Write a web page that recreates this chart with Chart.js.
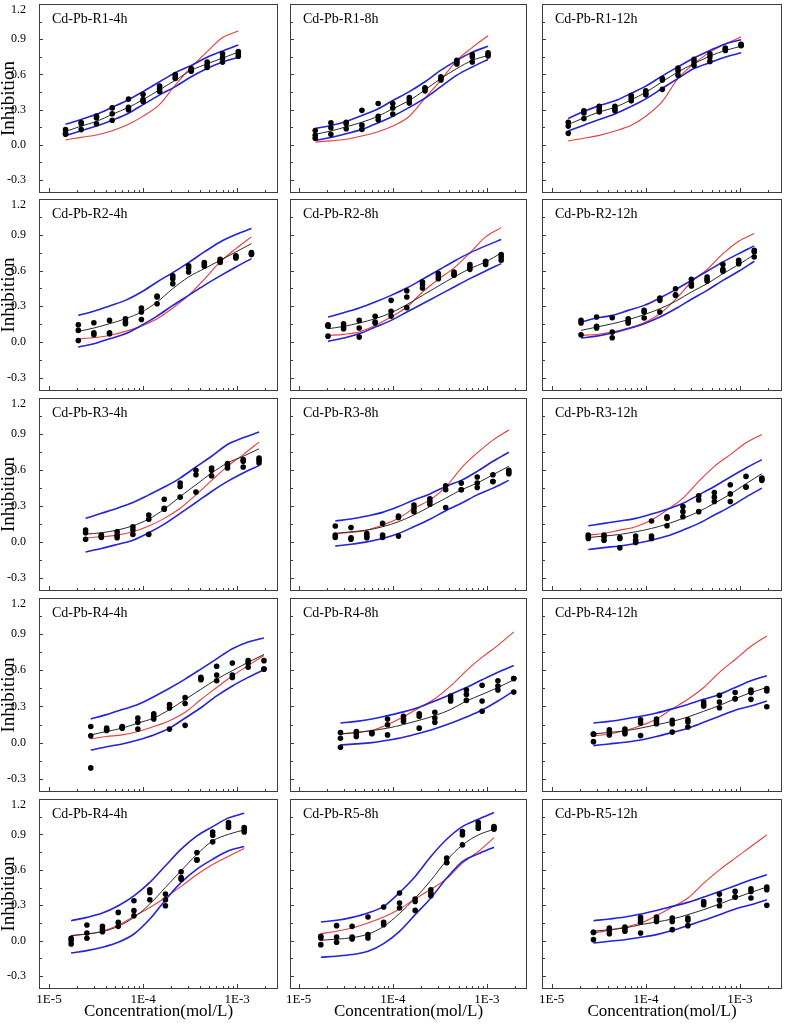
<!DOCTYPE html>
<html><head><meta charset="utf-8">
<script src="https://cdn.jsdelivr.net/npm/chart.js@4.4.1/dist/chart.umd.min.js"></script>
<style>
html,body{margin:0;padding:0;background:#fff;width:788px;height:1027px;overflow:hidden;position:relative}
canvas{position:absolute}
</style></head><body>
<script>
// ---------- concentrations (mol/L) per row ----------
const CONC_R1 = [1.5e-5,2.2e-5,3.2e-5,4.7e-5,7.0e-5,1.0e-4,1.5e-4,2.2e-4,3.25e-4,4.8e-4,7.0e-4,1.03e-3];
const CONC_R2 = [2.05e-5,3.0e-5,4.4e-5,6.5e-5,9.6e-5,1.41e-4,2.07e-4,3.05e-4,4.48e-4,6.6e-4,9.7e-4,1.42e-3];
const CONC_R3 = [2.45e-5,3.6e-5,5.3e-5,7.8e-5,1.15e-4,1.68e-4,2.48e-4,3.65e-4,5.35e-4,7.9e-4,1.16e-3,1.71e-3];
const CONC_R4 = [2.78e-5,4.1e-5,6.0e-5,8.8e-5,1.3e-4,1.91e-4,2.8e-4,4.12e-4,6.06e-4,8.9e-4,1.31e-3,1.93e-3];
const CONC_R5 = [1.72e-5,2.53e-5,3.7e-5,5.45e-5,8.0e-5,1.18e-4,1.73e-4,2.54e-4,3.74e-4,5.5e-4,8.1e-4,1.19e-3];
const CONC_R5_12H = [2.78e-5,4.1e-5,6.0e-5,8.8e-5,1.3e-4,1.91e-4,2.8e-4,4.12e-4,6.06e-4,8.9e-4,1.31e-3,1.93e-3];

// ---------- R1 ----------
const R1_4H_PTS = [[0.13,0.10,0.09],[0.19,0.18,0.13],[0.245,0.23,0.18],[0.315,0.265,0.21],[0.39,0.32,0.30],[0.43,0.385,0.37],[0.50,0.475,0.455],[0.60,0.58,0.565],[0.65,0.635,0.627],[0.705,0.68,0.66],[0.775,0.74,0.705],[0.795,0.775,0.755]];
const R1_4H_FIT = [0.114,0.16,0.20,0.26,0.32,0.385,0.47,0.55,0.635,0.69,0.74,0.79];
const R1_4H_UP  = [0.175,0.217,0.26,0.32,0.385,0.454,0.538,0.615,0.677,0.746,0.80,0.85];
const R1_4H_LO  = [0.078,0.12,0.16,0.21,0.27,0.343,0.426,0.496,0.58,0.65,0.705,0.746];
const R1_4H_RED = [0.042,0.064,0.084,0.12,0.175,0.245,0.345,0.51,0.663,0.794,0.914,0.97];

const R1_8H_PTS = [[0.123,0.081,0.056],[0.188,0.146,0.09],[0.193,0.18,0.137],[0.294,0.168,0.132],[0.353,0.244,0.213],[0.353,0.314,0.263],[0.403,0.384,0.356],[0.487,0.476,0.46],[0.58,0.566,0.552],[0.72,0.706,0.689],[0.77,0.748,0.706],[0.784,0.77,0.756]];
const R1_8H_FIT = [0.09,0.118,0.154,0.193,0.244,0.308,0.378,0.468,0.566,0.65,0.72,0.762];
const R1_8H_UP  = [0.14,0.165,0.2,0.25,0.308,0.378,0.454,0.538,0.636,0.72,0.79,0.84];
const R1_8H_LO  = [0.039,0.062,0.095,0.132,0.188,0.244,0.319,0.398,0.496,0.594,0.664,0.728];
const R1_8H_RED = [0.025,0.034,0.048,0.076,0.112,0.16,0.244,0.398,0.552,0.72,0.83,0.93];

const R1_12H_PTS = [[0.193,0.16,0.098],[0.291,0.272,0.224],[0.328,0.30,0.28],[0.328,0.308,0.291],[0.42,0.398,0.375],[0.46,0.44,0.426],[0.566,0.552,0.473],[0.655,0.63,0.594],[0.728,0.706,0.678],[0.776,0.748,0.711],[0.824,0.812,0.804],[0.857,0.846,0.846]];
const R1_12H_FIT = [0.174,0.23,0.28,0.32,0.384,0.448,0.538,0.622,0.692,0.756,0.804,0.84];
const R1_12H_UP  = [0.224,0.286,0.333,0.375,0.44,0.5,0.588,0.664,0.74,0.804,0.86,0.896];
const R1_12H_LO  = [0.118,0.168,0.216,0.263,0.328,0.392,0.482,0.566,0.65,0.70,0.748,0.784];
const R1_12H_RED = [0.034,0.056,0.081,0.118,0.168,0.244,0.37,0.566,0.692,0.79,0.86,0.92];

// ---------- R2 ----------
const R2_4H_PTS = [[0.146,0.098,0.014],[0.162,0.078,0.062],[0.182,0.078,0.07],[0.196,0.168,0.154],[0.286,0.252,0.19],[0.387,0.378,0.322],[0.555,0.532,0.49],[0.639,0.622,0.588],[0.667,0.65,0.636],[0.695,0.678,0.667],[0.723,0.715,0.706],[0.75,0.742,0.734]];
const R2_4H_FIT = [0.09,0.118,0.154,0.196,0.252,0.336,0.448,0.546,0.616,0.686,0.756,0.826];
const R2_4H_UP  = [0.224,0.258,0.303,0.35,0.42,0.504,0.583,0.667,0.756,0.84,0.902,0.952];
const R2_4H_LO  = [-0.042,-0.014,0.028,0.07,0.14,0.218,0.308,0.392,0.476,0.555,0.63,0.70];
const R2_4H_RED = [0.028,0.036,0.056,0.09,0.134,0.196,0.286,0.392,0.527,0.672,0.784,0.882];

const R2_8H_PTS = [[0.146,0.134,0.05],[0.154,0.126,0.112],[0.182,0.118,0.042],[0.216,0.168,0.16],[0.35,0.258,0.218],[0.431,0.378,0.289],[0.504,0.482,0.454],[0.574,0.555,0.532],[0.588,0.574,0.56],[0.65,0.63,0.61],[0.678,0.667,0.65],[0.734,0.714,0.686]];
const R2_8H_FIT = [0.112,0.132,0.16,0.196,0.246,0.314,0.392,0.47,0.546,0.616,0.672,0.748];
const R2_8H_UP  = [0.21,0.246,0.286,0.336,0.392,0.454,0.527,0.602,0.678,0.748,0.807,0.86];
const R2_8H_LO  = [0.006,0.034,0.07,0.126,0.182,0.252,0.322,0.392,0.462,0.532,0.597,0.658];
const R2_8H_RED = [0.056,0.065,0.085,0.14,0.21,0.294,0.42,0.527,0.622,0.748,0.882,0.96];

const R2_12H_PTS = [[0.182,0.16,0.062],[0.21,0.132,0.118],[0.204,0.084,0.036],[0.196,0.174,0.16],[0.266,0.252,0.202],[0.37,0.35,0.252],[0.448,0.397,0.392],[0.527,0.49,0.47],[0.546,0.527,0.513],[0.65,0.61,0.594],[0.686,0.667,0.658],[0.77,0.756,0.714]];
const R2_12H_FIT = [0.098,0.126,0.154,0.188,0.23,0.28,0.342,0.42,0.49,0.574,0.65,0.734];
const R2_12H_UP  = [0.168,0.202,0.224,0.266,0.308,0.37,0.44,0.518,0.594,0.672,0.742,0.807];
const R2_12H_LO  = [0.034,0.05,0.076,0.112,0.154,0.21,0.28,0.359,0.434,0.518,0.594,0.678];
const R2_12H_RED = [0.056,0.064,0.084,0.118,0.162,0.238,0.359,0.504,0.61,0.742,0.846,0.91];

// ---------- R3 ----------
const R3_4H_PTS = [[0.098,0.076,0.022],[0.056,0.048,0.036],[0.084,0.056,0.034],[0.126,0.098,0.062],[0.224,0.188,0.062],[0.356,0.28,0.272],[0.49,0.462,0.373],[0.597,0.56,0.415],[0.616,0.597,0.552],[0.653,0.636,0.616],[0.686,0.672,0.625],[0.70,0.681,0.658]];
const R3_4H_FIT = [0.064,0.076,0.098,0.134,0.19,0.272,0.378,0.476,0.574,0.658,0.714,0.776];
const R3_4H_UP  = [0.196,0.238,0.28,0.328,0.392,0.457,0.532,0.625,0.714,0.812,0.868,0.916];
const R3_4H_LO  = [-0.084,-0.056,-0.022,0.014,0.076,0.148,0.238,0.328,0.42,0.504,0.574,0.636];
const R3_4H_RED = [0.034,0.042,0.056,0.084,0.132,0.196,0.28,0.392,0.513,0.63,0.728,0.832];

const R3_8H_PTS = [[0.132,0.056,0.036],[0.12,0.034,0.022],[0.07,0.048,0.034],[0.154,0.056,0.036],[0.216,0.204,0.048],[0.308,0.28,0.252],[0.359,0.336,0.314],[0.468,0.434,0.286],[0.49,0.434,0.434],[0.541,0.49,0.454],[0.56,0.504,0.504],[0.597,0.583,0.569]];
const R3_8H_FIT = [0.07,0.084,0.098,0.126,0.168,0.224,0.294,0.364,0.434,0.49,0.56,0.63];
const R3_8H_UP  = [0.174,0.19,0.216,0.246,0.294,0.35,0.40,0.462,0.513,0.588,0.672,0.748];
const R3_8H_LO  = [-0.036,-0.02,0.0,0.028,0.07,0.126,0.188,0.26,0.322,0.392,0.448,0.513];
const R3_8H_RED = [0.07,0.078,0.098,0.14,0.196,0.28,0.35,0.457,0.616,0.742,0.849,0.933];

const R3_12H_PTS = [[0.056,0.042,0.028],[0.056,0.042,0.014],[0.036,0.028,-0.05],[0.048,0.014,-0.006],[0.174,0.048,0.028],[0.21,0.196,0.134],[0.294,0.252,0.21],[0.384,0.35,0.252],[0.412,0.373,0.336],[0.476,0.40,0.336],[0.546,0.457,0.457],[0.532,0.52,0.513]];
const R3_12H_FIT = [0.036,0.048,0.062,0.084,0.112,0.148,0.196,0.252,0.322,0.398,0.485,0.569];
const R3_12H_UP  = [0.134,0.154,0.174,0.196,0.232,0.272,0.322,0.392,0.462,0.541,0.616,0.686];
const R3_12H_LO  = [-0.064,-0.048,-0.034,-0.014,0.014,0.048,0.098,0.154,0.224,0.294,0.373,0.448];
const R3_12H_RED = [0.056,0.07,0.098,0.126,0.182,0.266,0.364,0.504,0.63,0.728,0.826,0.896];

// ---------- R4 ----------
const R4_4H_PTS = [[0.134,0.056,-0.21],[0.12,0.106,0.10],[0.134,0.127,0.12],[0.204,0.168,0.112],[0.24,0.218,0.196],[0.316,0.288,0.112],[0.373,0.325,0.143],[0.541,0.53,0.521],[0.633,0.56,0.513],[0.661,0.56,0.541],[0.68,0.661,0.625],[0.68,0.61,0.61]];
const R4_4H_FIT = [0.064,0.092,0.12,0.162,0.204,0.274,0.358,0.442,0.526,0.597,0.667,0.731];
const R4_4H_UP  = [0.196,0.232,0.274,0.316,0.381,0.451,0.527,0.61,0.695,0.779,0.835,0.868];
const R4_4H_LO  = [-0.062,-0.034,-0.011,0.022,0.064,0.12,0.204,0.289,0.387,0.47,0.541,0.605];
const R4_4H_RED = [0.031,0.05,0.064,0.092,0.134,0.182,0.252,0.358,0.457,0.555,0.639,0.723];

const R4_8H_PTS = [[0.084,0.036,-0.039],[0.092,0.073,0.05],[0.084,0.078,0.073],[0.196,0.148,0.064],[0.218,0.196,0.176],[0.24,0.218,0.12],[0.252,0.204,0.168],[0.387,0.364,0.345],[0.437,0.40,0.35],[0.476,0.345,0.26],[0.513,0.47,0.437],[0.532,0.532,0.42]];
const R4_8H_FIT = [0.07,0.084,0.10,0.12,0.15,0.185,0.224,0.275,0.345,0.40,0.457,0.521];
const R4_8H_UP  = [0.162,0.176,0.196,0.224,0.255,0.294,0.345,0.40,0.457,0.521,0.583,0.639];
const R4_8H_LO  = [-0.02,-0.011,0.0,0.02,0.045,0.078,0.115,0.16,0.212,0.27,0.345,0.429];
const R4_8H_RED = [0.073,0.084,0.10,0.15,0.215,0.289,0.364,0.47,0.597,0.709,0.807,0.919];

const R4_12H_PTS = [[0.07,0.07,0.008],[0.106,0.092,0.064],[0.112,0.092,0.073],[0.19,0.162,0.059],[0.196,0.176,0.157],[0.185,0.157,0.087],[0.19,0.171,0.129],[0.336,0.317,0.303],[0.392,0.336,0.289],[0.415,0.364,0.364],[0.437,0.415,0.359],[0.448,0.429,0.297]];
const R4_12H_FIT = [0.073,0.084,0.098,0.12,0.148,0.176,0.213,0.26,0.308,0.364,0.415,0.457];
const R4_12H_UP  = [0.162,0.176,0.196,0.218,0.246,0.28,0.317,0.359,0.40,0.457,0.513,0.555];
const R4_12H_LO  = [-0.025,-0.011,0.003,0.022,0.05,0.084,0.12,0.168,0.218,0.269,0.303,0.345];
const R4_12H_RED = [0.056,0.072,0.10,0.14,0.196,0.28,0.36,0.457,0.583,0.69,0.80,0.885];

// ---------- R5 ----------
const R5_4H_PTS = [[0.02,0.0,-0.028],[0.132,0.065,0.02],[0.121,0.099,0.076],[0.239,0.155,0.121],[0.338,0.254,0.211],[0.431,0.408,0.346],[0.394,0.346,0.296],[0.583,0.535,0.521],[0.746,0.684,0.684],[0.921,0.893,0.837],[1.0,0.977,0.958],[0.958,0.938,0.921]];
const R5_4H_FIT = [0.042,0.056,0.076,0.121,0.197,0.31,0.451,0.592,0.732,0.845,0.901,0.938];
const R5_4H_UP  = [0.169,0.197,0.234,0.296,0.38,0.493,0.634,0.775,0.887,0.966,1.04,1.079];
const R5_4H_LO  = [-0.104,-0.085,-0.056,-0.014,0.056,0.183,0.345,0.493,0.606,0.69,0.761,0.797];
const R5_4H_RED = [0.042,0.056,0.08,0.13,0.205,0.28,0.365,0.46,0.56,0.645,0.715,0.78];

const R5_8H_PTS = [[0.037,0.023,-0.034],[0.127,0.031,-0.014],[0.121,0.031,0.014],[0.20,0.051,0.023],[0.285,0.155,0.135],[0.403,0.318,0.276],[0.352,0.332,0.256],[0.431,0.403,0.38],[0.699,0.662,0.662],[0.924,0.896,0.811],[1.0,0.972,0.952],[0.966,0.955,0.944]];
const R5_8H_FIT = [0.003,0.012,0.025,0.055,0.12,0.23,0.36,0.51,0.68,0.81,0.895,0.944];
const R5_8H_UP  = [0.158,0.172,0.197,0.234,0.29,0.408,0.544,0.713,0.859,0.966,1.028,1.085];
const R5_8H_LO  = [-0.141,-0.132,-0.118,-0.09,-0.025,0.079,0.22,0.361,0.53,0.67,0.735,0.792];
const R5_8H_RED = [0.059,0.079,0.107,0.149,0.2,0.268,0.355,0.435,0.525,0.656,0.755,0.873];

const R5_12H_PTS = [[0.07,0.07,0.008],[0.107,0.093,0.059],[0.115,0.099,0.079],[0.197,0.177,0.155,0.065],[0.20,0.183,0.163],[0.192,0.163,0.093],[0.192,0.172,0.127],[0.332,0.318,0.304],[0.394,0.341,0.296],[0.417,0.369,0.369],[0.439,0.417,0.361],[0.454,0.431,0.299]];
const R5_12H_FIT = [0.079,0.093,0.107,0.135,0.158,0.183,0.22,0.262,0.31,0.361,0.408,0.454];
const R5_12H_UP  = [0.169,0.183,0.20,0.225,0.256,0.29,0.324,0.369,0.417,0.465,0.515,0.558];
const R5_12H_LO  = [-0.02,-0.006,0.008,0.028,0.051,0.085,0.127,0.172,0.22,0.268,0.304,0.346];
const R5_12H_RED = [0.065,0.087,0.115,0.149,0.211,0.285,0.361,0.487,0.60,0.699,0.797,0.896];

// ---------- ticks / labels ----------
const Y_TICKS = [-0.3,-0.15,0,0.15,0.3,0.45,0.6,0.75,0.9,1.05,1.2];
const Y_TICK_LABELS = ['-0.3','','0.0','','0.3','','0.6','','0.9','','1.2'];
const X_TICKS = [1e-5,2e-5,3e-5,4e-5,5e-5,6e-5,7e-5,8e-5,9e-5,1e-4,2e-4,3e-4,4e-4,5e-4,6e-4,7e-4,8e-4,9e-4,1e-3,2e-3];
const X_TICK_LABELS = ['1E-5','','','','','','','','','1E-4','','','','','','','','','1E-3',''];
const Y_TITLE = 'Inhibition';
const X_TITLE = 'Concentration(mol/L)';

const PANELS = [
 {title:'Cd-Pb-R1-4h',  conc:CONC_R1, pts:R1_4H_PTS,  fit:R1_4H_FIT,  up:R1_4H_UP,  lo:R1_4H_LO,  red:R1_4H_RED},
 {title:'Cd-Pb-R1-8h',  conc:CONC_R1, pts:R1_8H_PTS,  fit:R1_8H_FIT,  up:R1_8H_UP,  lo:R1_8H_LO,  red:R1_8H_RED},
 {title:'Cd-Pb-R1-12h', conc:CONC_R1, pts:R1_12H_PTS, fit:R1_12H_FIT, up:R1_12H_UP, lo:R1_12H_LO, red:R1_12H_RED},
 {title:'Cd-Pb-R2-4h',  conc:CONC_R2, pts:R2_4H_PTS,  fit:R2_4H_FIT,  up:R2_4H_UP,  lo:R2_4H_LO,  red:R2_4H_RED},
 {title:'Cd-Pb-R2-8h',  conc:CONC_R2, pts:R2_8H_PTS,  fit:R2_8H_FIT,  up:R2_8H_UP,  lo:R2_8H_LO,  red:R2_8H_RED},
 {title:'Cd-Pb-R2-12h', conc:CONC_R2, pts:R2_12H_PTS, fit:R2_12H_FIT, up:R2_12H_UP, lo:R2_12H_LO, red:R2_12H_RED},
 {title:'Cd-Pb-R3-4h',  conc:CONC_R3, pts:R3_4H_PTS,  fit:R3_4H_FIT,  up:R3_4H_UP,  lo:R3_4H_LO,  red:R3_4H_RED},
 {title:'Cd-Pb-R3-8h',  conc:CONC_R3, pts:R3_8H_PTS,  fit:R3_8H_FIT,  up:R3_8H_UP,  lo:R3_8H_LO,  red:R3_8H_RED},
 {title:'Cd-Pb-R3-12h', conc:CONC_R3, pts:R3_12H_PTS, fit:R3_12H_FIT, up:R3_12H_UP, lo:R3_12H_LO, red:R3_12H_RED},
 {title:'Cd-Pb-R4-4h',  conc:CONC_R4, pts:R4_4H_PTS,  fit:R4_4H_FIT,  up:R4_4H_UP,  lo:R4_4H_LO,  red:R4_4H_RED},
 {title:'Cd-Pb-R4-8h',  conc:CONC_R4, pts:R4_8H_PTS,  fit:R4_8H_FIT,  up:R4_8H_UP,  lo:R4_8H_LO,  red:R4_8H_RED},
 {title:'Cd-Pb-R4-12h', conc:CONC_R4, pts:R4_12H_PTS, fit:R4_12H_FIT, up:R4_12H_UP, lo:R4_12H_LO, red:R4_12H_RED},
 {title:'Cd-Pb-R4-4h',  conc:CONC_R5, pts:R5_4H_PTS,  fit:R5_4H_FIT,  up:R5_4H_UP,  lo:R5_4H_LO,  red:R5_4H_RED},
 {title:'Cd-Pb-R5-8h',  conc:CONC_R5, pts:R5_8H_PTS,  fit:R5_8H_FIT,  up:R5_8H_UP,  lo:R5_8H_LO,  red:R5_8H_RED},
 {title:'Cd-Pb-R5-12h', conc:CONC_R5_12H, pts:R5_12H_PTS, fit:R5_12H_FIT, up:R5_12H_UP, lo:R5_12H_LO, red:R5_12H_RED}
];

// ---------- layout (pixels) ----------
const COL_BOX = [[39,279],[290,528],[542,783]];
const ROW_BOX = [[1,193],[199,391],[398,591],[598,792],[799,989]];
const X_MIN = [7.83e-6, 8.09e-6, 7.89e-6];
const X_MAX = [2.72e-3, 2.67e-3, 2.80e-3];
const SERIF = '"Liberation Serif","Times New Roman",serif';

Chart.defaults.font.family = SERIF;
Chart.defaults.color = '#000';

const panelPlugin = {
  id: 'panel',
  afterDraw(chart, args, opts) {
    const {ctx, chartArea: a, scales: {x, y}} = chart;
    ctx.save();
    ctx.strokeStyle = '#3c3c3c';
    ctx.lineWidth = 1;
    ctx.strokeRect(a.left + 0.5, a.top + 0.5, a.right - a.left - 1, a.bottom - a.top - 1);
    ctx.beginPath();
    Y_TICKS.forEach((v, i) => {
      const p = Math.round(y.getPixelForValue(v)) + 0.5;
      const len = Y_TICK_LABELS[i] ? 4 : 3;
      ctx.moveTo(a.left, p); ctx.lineTo(a.left + len, p);
    });
    X_TICKS.forEach((v, i) => {
      if (v < x.min || v > x.max) return;
      const p = Math.round(x.getPixelForValue(v)) + 0.5;
      const len = X_TICK_LABELS[i] ? 5 : 3;
      ctx.moveTo(p, a.bottom); ctx.lineTo(p, a.bottom - len);
    });
    ctx.stroke();
    ctx.fillStyle = '#000';
    ctx.font = '14px ' + SERIF;
    ctx.textAlign = 'left';
    ctx.textBaseline = 'middle';
    ctx.fillText(opts.title, a.left + 13, a.top + 15);
    if (opts.topLabel) {
      ctx.font = '12px ' + SERIF;
      ctx.textAlign = 'right';
      const last = Y_TICKS.length - 1;
      ctx.fillText(Y_TICK_LABELS[last], a.left - 13, y.getPixelForValue(Y_TICKS[last]) + 6);
    }
    ctx.restore();
  }
};

PANELS.forEach((p, i) => {
  const r = Math.floor(i / 3), c = i % 3;
  const [bl, br] = COL_BOX[c], [bt, bb] = ROW_BOX[r];
  const mL = c === 0 ? bl : 8;
  const mT = r === 0 ? bt : 6;
  const mR = 3;
  const mB = r === 4 ? 1027 - bb : 5;
  const W = br - bl + mL + mR, H = bb - bt + mT + mB;
  const cv = document.createElement('canvas');
  cv.width = W; cv.height = H;
  cv.style.left = (bl - mL) + 'px'; cv.style.top = (bt - mT) + 'px';
  cv.style.width = W + 'px'; cv.style.height = H + 'px';
  document.body.appendChild(cv);

  const pts = [];
  p.conc.forEach((cx, k) => p.pts[k].forEach(v => pts.push({x: cx, y: v})));
  const line = arr => p.conc.map((cx, k) => ({x: cx, y: arr[k]}));
  const lineDs = (arr, color, w) => ({type: 'line', data: line(arr), borderColor: color, borderWidth: w,
     pointRadius: 0, fill: false, cubicInterpolationMode: 'monotone', showLine: true});

  new Chart(cv, {
    type: 'scatter',
    data: { datasets: [
      {type: 'scatter', data: pts, pointRadius: 2.8, pointBackgroundColor: '#000', pointBorderWidth: 0, pointBorderColor: '#000'},
      lineDs(p.fit, '#2a2a2a', 1),
      lineDs(p.up, '#2323dc', 1.6),
      lineDs(p.lo, '#2323dc', 1.6),
      lineDs(p.red, '#f03a3a', 1.1)
    ]},
    options: {
      responsive: false, animation: false, devicePixelRatio: 1, events: [],
      layout: { padding: {top: mT, right: mR, left: 0, bottom: 0} },
      plugins: { legend: {display: false}, tooltip: {enabled: false},
        panel: { title: p.title, topLabel: c === 0 } },
      scales: {
        x: {
          type: 'logarithmic', min: X_MIN[c], max: X_MAX[c], bounds: 'data',
          afterBuildTicks: s => { s.ticks = X_TICKS.map(v => ({value: v})); },
          afterFit: s => { s.height = mB; s.paddingLeft = 0; s.paddingRight = 0; s.paddingTop = 0; s.paddingBottom = 0; },
          grid: {display: false, drawTicks: false, drawOnChartArea: false},
          border: {display: false},
          ticks: { display: r === 4, autoSkip: false, maxRotation: 0, minRotation: 0, padding: 3,
            font: {size: 13, family: SERIF}, color: '#000',
            callback: (v) => { const k = X_TICKS.indexOf(v); return k >= 0 ? X_TICK_LABELS[k] : ''; } },
          title: { display: r === 4, text: X_TITLE, font: {size: 17, family: SERIF, lineHeight: 1},
            color: '#000', padding: {top: 0, bottom: 7} }
        },
        y: {
          type: 'linear', min: -0.41, max: 1.2, bounds: 'data',
          afterBuildTicks: s => { s.ticks = Y_TICKS.map(v => ({value: v})); },
          afterFit: s => { s.width = mL; s.paddingLeft = 0; s.paddingRight = 0; s.paddingTop = 0; s.paddingBottom = 0; },
          grid: {display: false, drawTicks: false, drawOnChartArea: false},
          border: {display: false},
          ticks: { display: c === 0, autoSkip: false, padding: 13, font: {size: 12, family: SERIF}, color: '#000',
            callback: (v) => { const k = Y_TICKS.findIndex(t => Math.abs(t - v) < 1e-9);
              return (k >= 0 && k < Y_TICKS.length - 1) ? Y_TICK_LABELS[k] : ''; } },
          title: { display: c === 0, text: Y_TITLE, font: {size: 19, family: SERIF, lineHeight: 1},
            color: '#000', padding: {top: 0, bottom: 0} }
        }
      }
    },
    plugins: [panelPlugin]
  });
});
</script>
</body></html>
